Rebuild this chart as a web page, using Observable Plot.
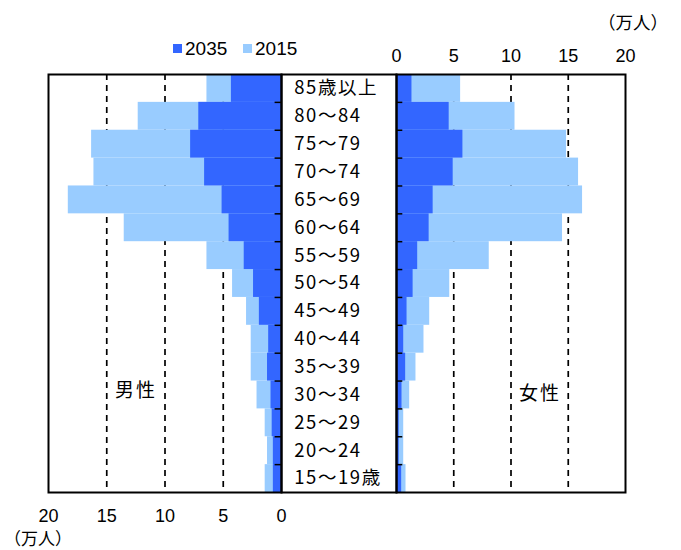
<!DOCTYPE html>
<html><head><meta charset="utf-8">
<script src="https://cdn.jsdelivr.net/npm/d3@7"></script>
<script src="https://cdn.jsdelivr.net/npm/@observablehq/plot@0.6"></script>
<style>
body{margin:0;background:#fff;}
#wrap{position:relative;width:681px;height:550px;font-family:"Liberation Sans",Arial,sans-serif;color:#000;}
#wrap svg{position:absolute;left:0;top:0;}
.lbl{position:absolute;white-space:nowrap;line-height:1;}
.jp{font-family:"Noto Sans CJK JP","Noto Sans",sans-serif;}
.sq{position:absolute;width:9px;height:9px;}
</style></head><body><div id="wrap"></div>
<script>
// age groups, top to bottom
const ages = ["85歳以上","80～84","75～79","70～74","65～69","60～64","55～59","50～54","45～49","40～44","35～39","30～34","25～29","20～24","15～19歳"];
const years = ["2035","2015"];
const colors = ["#3366FF","#99CCFF"];
// 万人
const male2015   = [6.4, 12.3, 16.3, 16.1, 18.3, 13.5, 6.4, 4.2, 3.0, 2.6, 2.6, 2.1, 1.4, 1.2, 1.4];
const male2035   = [4.3,  7.1,  7.8,  6.6,  5.1,  4.5, 3.2, 2.4, 1.9, 1.1, 1.2, 0.9, 0.8, 0.7, 0.7];
const female2015 = [5.6, 10.35, 14.85, 15.9, 16.25, 14.5, 8.1, 4.65, 2.9, 2.4, 1.7, 1.15, 0.63, 0.63, 0.83];
const female2035 = [1.35, 4.6, 5.8, 4.95, 3.2, 2.85, 1.85, 1.45, 0.92, 0.63, 0.8, 0.48, 0.24, 0.24, 0.45];
const leftTicks = [20, 15, 10, 5, 0];
const rightTicks = [0, 5, 10, 15, 20];
const gridValues = [5, 10, 15];
const unitLabel = "（万人）";
const sexLabels = ["男性", "女性"];

const rows = ages.map((age, i) => ({age, i, m15: male2015[i], m35: male2035[i], f15: female2015[i], f35: female2035[i]}));
const boundaries = d3.range(1, ages.length);

const W = 681, H = 550, TOP = 74, BOTTOM = 492;
const baseStyle = "background:transparent;overflow:visible;font-family:'Liberation Sans',Arial,sans-serif;font-size:18px;color:#000;";
const yScale = {domain: [0, ages.length], reverse: true, axis: null};

function panelMarks(k15, k35) {
  return [
    Plot.ruleX(gridValues, {stroke: "#000", strokeWidth: 1.7, strokeDasharray: "6,5"}),
    Plot.rect(rows, {x1: 0, x2: k15, y1: "i", y2: d => d.i + 1, fill: colors[1]}),
    Plot.rect(rows, {x1: 0, x2: k35, y1: "i", y2: d => d.i + 1, fill: colors[0]}),
    Plot.ruleY(boundaries, {x1: 0, x2: 0.55, stroke: "#000", strokeWidth: 1.5}),
    Plot.frame({stroke: "#000", strokeWidth: 2})
  ];
}

const left = Plot.plot({
  width: W, height: H, marginTop: TOP, marginBottom: H - BOTTOM, marginLeft: 48, marginRight: W - 281,
  style: baseStyle,
  x: {domain: [0, 20], reverse: true, axis: "bottom", ticks: leftTicks, tickSize: 0, tickPadding: 17, label: null},
  y: yScale,
  marks: panelMarks("m15", "m35")
});

const right = Plot.plot({
  width: W, height: H, marginTop: TOP, marginBottom: H - BOTTOM, marginLeft: 396, marginRight: W - 625,
  style: baseStyle,
  x: {domain: [0, 20], axis: "top", ticks: rightTicks, tickSize: 0, tickPadding: 13, label: null},
  y: yScale,
  marks: panelMarks("f15", "f35")
});

const middle = Plot.plot({
  width: W, height: H, marginTop: TOP, marginBottom: H - BOTTOM, marginLeft: 281, marginRight: W - 396,
  style: baseStyle + "letter-spacing:1.6px;",
  x: {domain: [0, 1], axis: null},
  y: yScale,
  marks: [
    Plot.text(rows, {x: 0.11, y: d => d.i + 0.5, text: "age", textAnchor: "start", fontSize: 18.5, fontFamily: "Noto Sans CJK JP", fill: "#000"}),
    Plot.frame({stroke: "#000", strokeWidth: 2})
  ]
});

const wrap = document.getElementById("wrap");
wrap.append(left, right, middle);

function addLabel(text, x, y, size, cls) {
  const d = document.createElement("div");
  d.className = "lbl " + (cls || "");
  d.textContent = text;
  d.style.left = x + "px";
  d.style.top = (y - size * 0.5) + "px";
  d.style.fontSize = size + "px";
  wrap.append(d);
  return d;
}
// legend
const legendX = [173, 243];
years.forEach((yr, j) => {
  const s = document.createElement("div");
  s.className = "sq";
  s.style.left = legendX[j] + "px";
  s.style.top = "44px";
  s.style.background = colors[j];
  wrap.append(s);
  addLabel(yr, legendX[j] + 12, 48, 19);
});
addLabel(unitLabel, 598, 22, 17.5, "jp");
addLabel(unitLabel, 4, 537, 17, "jp");
const m = addLabel(sexLabels[0], 115, 388, 19, "jp"); m.style.letterSpacing = "2px";
const f = addLabel(sexLabels[1], 519, 391, 19, "jp"); f.style.letterSpacing = "2px";
</script></body></html>
